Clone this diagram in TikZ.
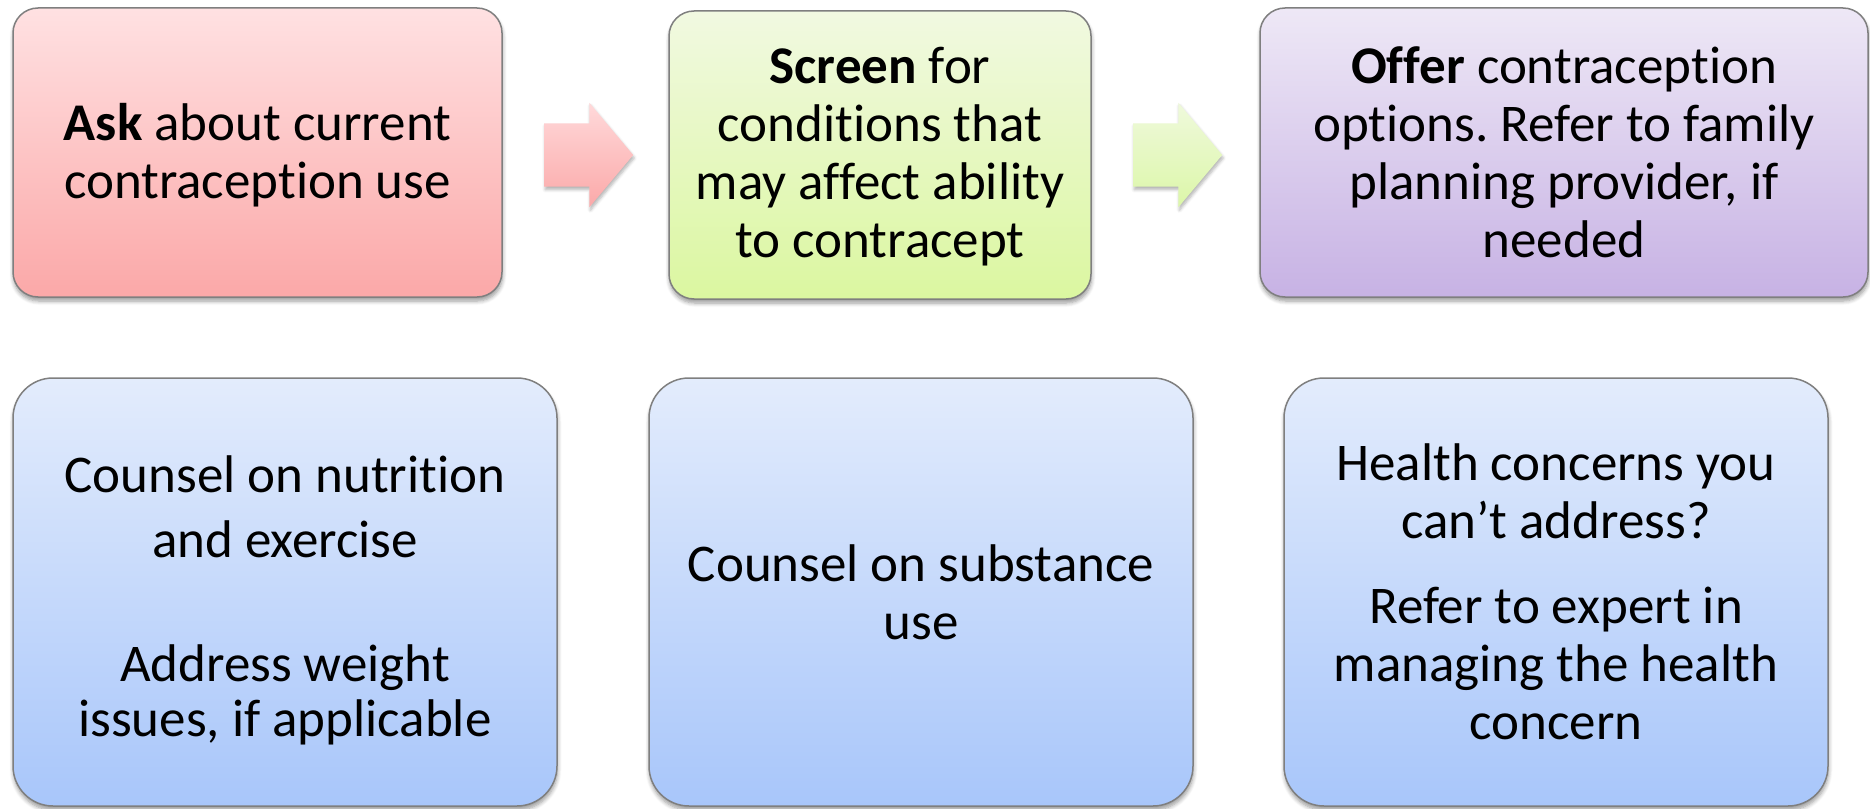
\documentclass[tikz,border=0pt]{standalone}
\usepackage{fontspec}
\setmainfont{Carlito}[Ligatures=NoCommon]
\usetikzlibrary{shapes.arrows,shadows.blur}
\frenchspacing
\definecolor{bordergray}{HTML}{7F7F7F}
\definecolor{redtop}{HTML}{FFE1E2}
\definecolor{redbot}{HTML}{FBA8A8}
\definecolor{greentop}{HTML}{F1F9E1}
\definecolor{greenbot}{HTML}{DBF7A0}
\definecolor{purptop}{HTML}{EEE8F6}
\definecolor{purpbot}{HTML}{C7B2E4}
\definecolor{bluetop}{HTML}{E3ECFC}
\definecolor{bluebot}{HTML}{A8C6FA}
\definecolor{arrredtop}{HTML}{FFD9DA}
\definecolor{arrredbot}{HTML}{FBA9A9}
\definecolor{arrgrtop}{HTML}{EFF9DC}
\definecolor{arrgrbot}{HTML}{DCF7A8}
\tikzset{
  boxfont/.style={align=center, font=\fontsize{53}{58}\selectfont},
  boxbase/.style={draw=bordergray, line width=1.5pt, inner sep=0pt, boxfont,
    blur shadow={shadow xshift=0.5pt, shadow yshift=-4pt, shadow blur radius=4pt, shadow opacity=40, shadow blur steps=6}},
  topbox/.style={boxbase, rounded corners=25pt},
  botbox/.style={boxbase, rounded corners=40pt, top color=bluetop, bottom color=bluebot,
    minimum width=544pt, minimum height=428pt},
  blockarrow/.style={single arrow, draw=none, inner xsep=0pt, inner ysep=31.5pt, minimum height=89pt,
    single arrow head extend=20.5pt, single arrow tip angle=100, anchor=tail,
    blur shadow={shadow xshift=1pt, shadow yshift=-3pt, shadow blur radius=3pt, shadow opacity=30, shadow blur steps=5}}
}
\begin{document}
\begin{tikzpicture}[x=1pt,y=-1pt]
\useasboundingbox (0,0) rectangle (1870,808);
% top row
\node[topbox, top color=redtop, bottom color=redbot, minimum width=489pt, minimum height=289pt]
  (ask) at (257.5,152.5) {};
\node[boxfont] (asktext) at (257.5,155.5) {\textbf{Ask} about current\\contraception use};
\node[topbox, top color=greentop, bottom color=greenbot, minimum width=422pt, minimum height=288pt]
  (screen) at (880,155) {};
\node[boxfont] (screentext) at (880,157) {\textbf{Screen} for\\conditions that\\may affect ability\\to contracept};
\node[topbox, top color=purptop, bottom color=purpbot, minimum width=608pt, minimum height=289pt]
  (offer) at (1564,152.5) {};
\node[boxfont] (offertext) at (1564,152.5) {\textbf{Offer} contraception\\options. Refer to family\\planning provider, if\\needed};
% block arrows
\node[blockarrow, top color=arrredtop, bottom color=arrredbot] (arr1) at (544,155) {};
\node[blockarrow, top color=arrgrtop, bottom color=arrgrbot] (arr2) at (1133,155) {};
% bottom row
\node[botbox] (nutrition) at (285,592) {};
\node[boxfont] (nutritiontext) at (285,600) {Counsel on nutrition\\[7pt]and exercise\\[66pt]Address weight\\[-3pt]issues, if applicable};
\node[botbox] (substance) at (921,592) {};
\node[boxfont] (substancetext) at (921,592) {Counsel on substance\\use};
\node[botbox] (health) at (1556,592) {};
\node[boxfont] (healthtext) at (1556,592) {Health concerns you\\can’t address?\\[27pt]Refer to expert in\\managing the health\\concern};
\end{tikzpicture}
\end{document}
